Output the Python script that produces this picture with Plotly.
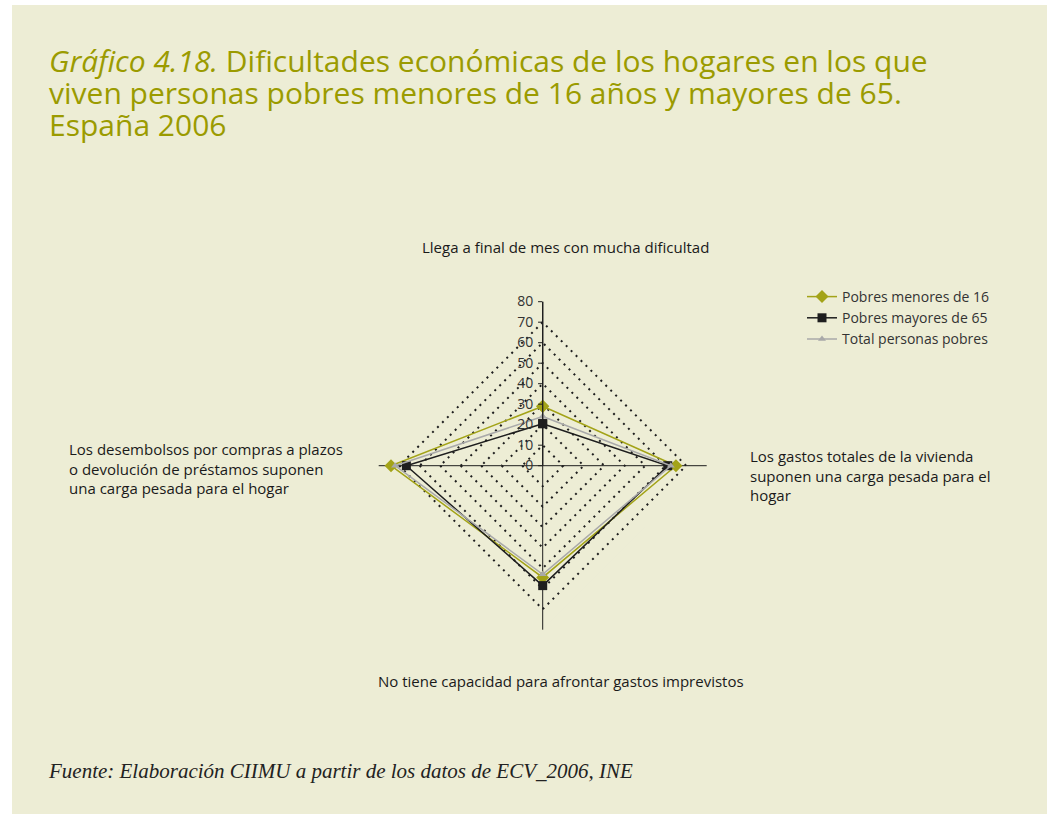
import plotly.graph_objects as go

W, H = 1047, 814

categories = [
    "Llega a final de mes con mucha dificultad",
    "Los gastos totales de la vivienda<br>suponen una carga pesada para el<br>hogar",
    "No tiene capacidad para afrontar gastos imprevistos",
    "Los desembolsos por compras a plazos<br>o devolución de préstamos suponen<br>una carga pesada para el hogar",
]
axis_keys = ["A", "B", "C", "D"]

menores16 = [29, 65, 54.5, 74]
mayores65 = [20.5, 61, 58.5, 66.5]
total_pobres = [24, 62.5, 53, 72]

series_names = ["Pobres menores de 16", "Pobres mayores de 65", "Total personas pobres"]
radial_ticks = [0, 10, 20, 30, 40, 50, 60, 70, 80]

title_lines = [
    "<i>Gráfico 4.18.</i> Dificultades económicas de los hogares en los que",
    "viven personas pobres menores de 16 años y mayores de 65.",
    "España 2006",
]
source_text = "<i>Fuente: Elaboración CIIMU a partir de los datos de ECV_2006, INE</i>"

BG = "#EDEDD5"
GREEN = "#A3A318"
BLACK = "#1E1E1E"
GRAY = "#A9A9A9"
TITLE = "#9B9B00"


def px(x):
    return x / W


def py(y):
    return 1 - y / H


fig = go.Figure()

styles = [
    (menores16, series_names[0], GREEN, "diamond", 10),
    (mayores65, series_names[1], BLACK, "square", 9),
    (total_pobres, series_names[2], GRAY, "triangle-up", 7),
]
for vals, name, col, sym, sz in styles:
    fig.add_trace(go.Scatterpolar(
        r=vals + vals[:1],
        theta=axis_keys + axis_keys[:1],
        mode="lines+markers",
        name=name,
        line=dict(color=col, width=1.5),
        marker=dict(symbol=sym, size=sz, color=col),
    ))

cx, cy, R = 542.7, 465.7, 164

fig.update_layout(
    width=W, height=H,
    margin=dict(l=0, r=0, t=0, b=0),
    paper_bgcolor="white",
    plot_bgcolor=BG,
    showlegend=True,
    legend=dict(
        x=px(802), y=py(281), xanchor="left", yanchor="top",
        bgcolor="rgba(0,0,0,0)",
        font=dict(family="Open Sans", size=14, color="#333333"),
        tracegroupgap=0, itemwidth=30,
    ),
    polar=dict(
        bgcolor=BG,
        gridshape="linear",
        domain=dict(x=[px(cx - R), px(cx + R)], y=[py(cy + R), py(cy - R)]),
        radialaxis=dict(
            range=[0, 80], tickvals=radial_ticks, angle=90, tickangle=90,
            showline=True, linecolor=BLACK, linewidth=1.3,
            ticks="outside", ticklen=4, tickcolor=BLACK,
            gridcolor=BLACK, griddash="2px,5px", gridwidth=1.5,
            tickfont=dict(family="Open Sans", size=14, color="#333333"),
            side="counterclockwise",
        ),
        angularaxis=dict(
            rotation=90, direction="clockwise",
            categoryorder="array", categoryarray=axis_keys,
            showticklabels=False, ticks="",
            showline=False,
            gridcolor=BLACK, gridwidth=1.3,
        ),
    ),
    shapes=[dict(type="rect", xref="paper", yref="paper", layer="below",
                 x0=px(12), x1=1, y0=0, y1=py(5), fillcolor=BG, line_width=0)],
)

ann_font = dict(family="Open Sans", size=15, color="#1a1a1a")
annotations = [
    dict(x=px(565), y=py(247), text=categories[0], xanchor="center", yanchor="middle", align="center"),
    dict(x=px(748), y=py(475), text=categories[1], xanchor="left", yanchor="middle", align="left"),
    dict(x=px(561), y=py(681), text=categories[2], xanchor="center", yanchor="middle", align="center"),
    dict(x=px(67), y=py(468), text=categories[3], xanchor="left", yanchor="middle", align="left"),
    dict(x=px(46), y=py(771), text=source_text, xanchor="left", yanchor="middle", align="left",
         font=dict(family="Liberation Serif", size=21, color="#222222")),
]
for i, (line, yy) in enumerate(zip(title_lines, [61, 93, 125])):
    annotations.append(dict(x=px(47), y=py(yy), text=line, xanchor="left", yanchor="middle",
                            align="left", font=dict(family="Open Sans", size=30, color=TITLE)))
for a in annotations:
    a.setdefault("font", ann_font)
    a.update(xref="paper", yref="paper", showarrow=False)
fig.update_layout(annotations=annotations)

fig.write_html(
    "out.html",
    config={"displayModeBar": False},
    post_script="document.body.style.margin='0px';document.body.style.overflow='hidden';",
)
